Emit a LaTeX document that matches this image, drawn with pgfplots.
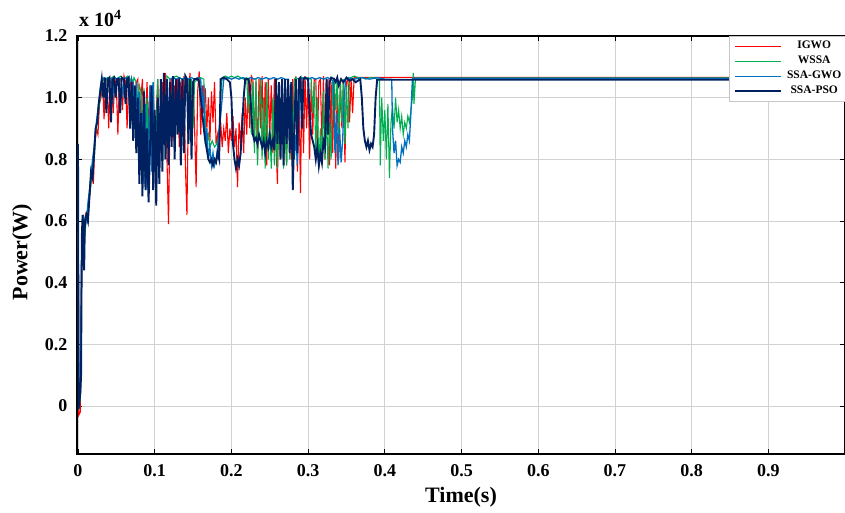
\documentclass[border=0pt]{standalone}
\usepackage{pgfplots}
\pgfplotsset{compat=1.18}
\usepackage{fontspec}
\setmainfont{Liberation Serif}
\definecolor{cIGWO}{RGB}{255,0,0}
\definecolor{cWSSA}{RGB}{0,176,80}
\definecolor{cSSAGWO}{RGB}{0,112,192}
\definecolor{cSSAPSO}{RGB}{0,32,96}
\begin{document}
\begin{tikzpicture}
\path[use as bounding box] (-77pt,-58pt) rectangle (768pt,454pt);
\begin{axis}[
  scale only axis, width=768pt, height=418pt,
  xmin=-0.0013, xmax=0.9999, ymin=-0.156, ymax=1.2,
  xtick={0,0.1,0.2,0.3,0.4,0.5,0.6,0.7,0.8,0.9},
  xticklabels={0,0.1,0.2,0.3,0.4,0.5,0.6,0.7,0.8,0.9},
  ytick={0,0.2,0.4,0.6,0.8,1.0,1.2},
  yticklabels={0,0.2,0.4,0.6,0.8,1.0,1.2},
  /pgf/number format/assume math mode=true,
  tick label style={font=\bfseries\fontsize{18}{20}\selectfont, black},
  xticklabel style={yshift=-7pt},
  yticklabel style={xshift=-6pt},
  tick align=inside, tick pos=both, major tick length=5pt,
  tick style={black, line width=0.8pt},
  grid=major, major grid style={gray!35, line width=0.8pt},
  axis line style={line width=1.6pt, black},
  xlabel={Time(s)}, ylabel={Power(W)},
  label style={font=\bfseries\fontsize{22}{24}\selectfont},
  xlabel style={at={(axis description cs:0.5,-0.103)}, anchor=center},
  ylabel style={at={(axis description cs:-0.0716,0.483)}, anchor=center},
  legend style={at={(0.849,1)}, anchor=north west, draw=gray!45, line width=0.6pt, fill=white,
    font=\bfseries\fontsize{11.5}{13}\selectfont, inner xsep=5pt, inner ysep=3pt,
    row sep=1pt, column sep=3pt,
    nodes={inner sep=1pt, text height=8.5pt, text depth=3.5pt}},
  legend image code/.code={\draw[#1] (0pt,0pt) -- (46pt,0pt);},
  clip=true,
]
% IGWO
\addplot[cIGWO, line width=1.1pt] coordinates {
(0,0.84)(0.001,-0.03)(0.003,-0.02)(0.004,0.3)(0.005,0.55)(0.006,0.6)(0.008,0.58)(0.010,0.62)(0.012,0.6)(0.014,0.66)(0.016,0.7)(0.018,0.78)(0.020,0.72)(0.022,0.85)(0.024,0.9)(0.026,0.88)(0.028,0.98)(0.030,1.0)
(0.032,1.05)(0.034,0.93)(0.036,1.06)(0.038,1.06)(0.040,0.9)(0.042,1.05)(0.044,1.06)(0.046,0.95)(0.048,1.06)(0.050,1.04)(0.052,0.88)(0.054,1.06)(0.056,1.06)(0.058,0.96)(0.060,1.07)(0.062,1.05)(0.064,0.9)(0.066,1.06)(0.068,1.06)(0.070,0.98)(0.072,1.06)(0.074,0.92)(0.076,1.05)(0.078,1.06)(0.080,0.86)(0.082,1.0)(0.084,1.06)(0.086,0.84)(0.088,0.92)(0.090,1.05)(0.092,0.9)(0.094,1.04)(0.096,0.88)(0.098,1.02)(0.100,0.85)
(0.102,0.95)(0.104,1.06)(0.106,0.88)(0.108,0.82)(0.110,1.05)(0.112,0.9)(0.114,1.08)(0.116,0.8)(0.118,0.59)(0.120,0.95)(0.122,1.06)(0.124,0.86)(0.126,1.04)(0.128,0.92)(0.130,1.06)(0.132,0.84)(0.134,1.05)(0.136,0.88)(0.138,1.07)(0.140,0.78)(0.142,0.62)(0.144,1.0)(0.146,1.08)(0.148,0.85)(0.150,1.05)(0.152,0.9)(0.154,0.71)(0.156,1.02)(0.158,1.085)(0.160,0.88)(0.162,1.04)(0.164,0.95)(0.166,1.03)(0.168,0.9)(0.170,1.0)(0.172,0.86)(0.174,1.02)(0.176,0.92)(0.178,1.05)(0.180,0.85)
(0.182,0.88)(0.184,0.82)(0.186,0.92)(0.188,0.84)(0.190,0.9)(0.192,0.86)(0.194,0.95)(0.196,0.82)(0.198,0.9)(0.200,0.86)(0.202,0.94)(0.204,0.84)(0.206,0.9)(0.208,0.71)(0.210,0.92)(0.212,0.85)(0.214,0.95)(0.216,0.82)(0.218,1.0)(0.220,0.88)(0.222,1.06)(0.224,0.9)(0.226,1.07)(0.228,1.06)(0.230,0.86)(0.232,1.05)(0.234,0.8)(0.236,1.06)(0.238,0.9)(0.240,1.07)(0.242,0.84)(0.244,1.05)(0.246,0.78)(0.248,1.06)(0.250,0.88)(0.252,1.04)(0.254,0.82)(0.256,1.06)(0.258,0.86)(0.260,0.72)
(0.262,1.05)(0.264,0.8)(0.266,1.06)(0.268,0.84)(0.270,1.0)(0.272,0.78)(0.274,1.06)(0.276,0.9)(0.278,0.8)(0.280,1.06)(0.282,0.85)(0.284,1.07)(0.286,0.76)(0.288,1.05)(0.290,0.69)(0.292,1.06)(0.294,0.82)(0.296,1.07)(0.298,0.9)(0.300,1.06)(0.302,0.8)(0.304,1.05)(0.306,0.88)(0.308,1.06)(0.310,1.06)(0.312,0.84)(0.314,1.05)(0.316,1.06)(0.318,0.86)(0.320,1.07)(0.322,0.8)(0.324,0.95)(0.326,1.06)(0.328,0.78)(0.330,1.05)(0.332,0.82)(0.334,1.06)(0.336,0.77)(0.338,1.04)(0.340,0.8)
(0.342,1.06)(0.344,0.9)(0.346,1.06)(0.348,0.79)(0.350,1.05)(0.352,1.06)(0.354,0.92)(0.356,1.06)(0.358,0.95)(0.360,1.066)(1.0,1.066)};
\addlegendentry{\makebox[56pt]{IGWO}}
% WSSA
\addplot[cWSSA, line width=1.1pt] coordinates {
(0,0.84)(0.001,0.0)(0.003,0.02)(0.005,0.5)(0.007,0.6)(0.009,0.55)(0.011,0.62)(0.013,0.64)(0.015,0.68)(0.017,0.72)(0.019,0.78)(0.021,0.8)(0.023,0.88)(0.025,0.92)(0.027,0.96)(0.029,1.0)(0.031,1.04)
(0.033,1.06)(0.036,1.05)(0.038,1.065)(0.041,1.06)(0.044,1.065)(0.047,1.07)(0.050,1.06)(0.053,1.065)(0.056,1.07)(0.059,1.06)(0.062,1.065)(0.065,1.07)(0.068,1.06)(0.071,1.04)(0.073,1.065)(0.076,1.05)(0.078,0.98)(0.080,1.04)(0.082,1.02)(0.084,0.9)(0.086,1.03)(0.088,0.85)(0.090,1.0)(0.092,0.8)(0.094,1.02)(0.096,0.84)(0.098,1.05)(0.100,0.78)(0.102,0.9)(0.104,1.06)(0.106,0.75)(0.108,1.02)(0.110,0.8)(0.112,1.06)(0.114,0.85)(0.116,1.07)(0.118,1.065)(0.120,1.06)(0.122,0.92)(0.124,1.065)(0.128,1.07)(0.132,1.065)(0.136,1.06)(0.140,1.065)(0.144,1.06)(0.146,0.95)(0.148,1.06)(0.150,0.9)(0.152,1.05)(0.156,1.06)(0.160,1.065)(0.164,1.06)
(0.166,0.92)(0.168,0.85)(0.170,0.88)(0.172,0.84)(0.175,0.86)(0.178,0.84)(0.181,0.85)(0.184,0.88)(0.186,1.0)(0.188,1.065)(0.192,1.07)(0.196,1.065)(0.200,1.07)(0.204,1.065)(0.208,1.07)(0.212,1.065)(0.216,1.06)(0.220,1.065)(0.222,0.95)(0.224,1.06)(0.226,0.88)(0.228,1.05)(0.230,0.82)(0.232,1.06)(0.234,0.78)(0.236,0.95)(0.238,1.06)(0.240,0.8)(0.242,1.0)(0.244,0.77)(0.246,1.05)(0.248,0.8)(0.250,0.9)(0.252,0.77)(0.254,1.0)(0.256,0.78)(0.258,0.92)(0.260,0.77)(0.262,0.95)(0.264,0.8)(0.266,1.04)(0.268,0.77)(0.270,0.88)(0.272,0.78)(0.274,1.06)(0.276,0.8)(0.278,0.95)(0.280,0.77)(0.282,1.06)
(0.284,1.065)(0.288,1.06)(0.292,1.065)(0.296,1.06)(0.300,1.065)(0.304,1.06)(0.306,0.95)(0.308,1.05)(0.310,0.82)(0.312,1.0)(0.314,0.77)(0.316,0.9)(0.318,0.78)(0.320,1.02)(0.322,0.8)(0.324,0.95)(0.326,0.77)(0.328,0.92)(0.330,0.8)(0.332,1.05)(0.334,1.06)(0.336,0.96)(0.338,1.06)(0.340,0.88)(0.342,1.05)(0.344,0.92)(0.346,1.06)(0.348,0.85)(0.350,1.04)(0.352,0.9)(0.354,1.06)(0.356,1.065)(0.360,1.07)(0.365,1.065)(0.370,1.065)(0.375,1.06)(0.380,1.065)(0.385,1.065)(0.390,1.06)(0.393,1.06)
(0.394,0.78)(0.396,1.0)(0.398,0.86)(0.400,0.96)(0.402,0.8)(0.404,0.98)(0.406,0.74)(0.408,0.92)(0.410,0.97)(0.412,0.9)(0.414,1.0)(0.416,0.92)(0.418,0.96)(0.420,0.9)(0.422,0.94)(0.424,0.88)(0.426,0.92)(0.428,0.9)(0.430,0.94)(0.432,0.92)(0.434,0.96)(0.436,1.0)(0.437,1.08)(0.438,0.98)(0.440,1.064)(1.0,1.064)};
\addlegendentry{\makebox[56pt]{WSSA}}
% SSA-GWO
\addplot[cSSAGWO, line width=1.3pt] coordinates {
(0,0.84)(0.001,0.01)(0.003,0.03)(0.005,0.52)(0.007,0.62)(0.009,0.58)(0.011,0.6)(0.013,0.66)(0.015,0.7)(0.017,0.75)(0.019,0.8)(0.021,0.84)(0.023,0.9)(0.025,0.94)(0.027,0.98)(0.029,1.03)(0.031,1.06)
(0.034,1.065)(0.037,1.06)(0.040,1.065)(0.043,1.06)(0.045,0.98)(0.047,1.065)(0.050,1.06)(0.053,1.065)(0.056,1.06)(0.058,1.0)(0.060,1.06)(0.063,1.065)(0.066,1.06)(0.068,0.96)(0.070,1.06)(0.072,1.04)(0.074,0.92)(0.076,1.05)(0.078,0.88)(0.080,1.02)(0.082,0.8)(0.084,0.95)(0.086,0.72)(0.088,0.98)(0.090,0.7)(0.092,0.88)(0.094,1.04)(0.096,0.76)(0.098,1.05)(0.100,0.8)(0.102,0.72)(0.104,1.0)(0.106,0.78)(0.108,1.04)(0.110,0.82)(0.112,1.06)(0.114,0.9)(0.116,1.06)(0.118,0.84)(0.120,1.06)
(0.124,1.065)(0.128,1.06)(0.132,1.065)(0.136,1.06)(0.140,1.065)(0.144,1.06)(0.148,1.065)(0.152,1.06)(0.156,1.065)(0.160,1.06)(0.162,0.95)(0.164,1.04)(0.166,0.85)(0.168,0.9)(0.170,0.8)(0.172,0.84)(0.174,0.78)(0.176,0.82)(0.178,0.78)(0.180,0.8)(0.182,0.84)(0.184,0.9)(0.186,0.94)(0.188,1.0)(0.190,1.06)(0.195,1.065)(0.200,1.06)(0.205,1.065)(0.210,1.06)(0.215,1.065)(0.220,1.06)(0.225,1.065)(0.230,1.06)(0.235,1.065)(0.240,1.06)(0.245,1.065)(0.250,1.06)(0.255,1.065)(0.260,1.06)(0.265,1.065)(0.270,1.06)(0.274,1.06)
(0.276,0.9)(0.278,1.05)(0.280,0.86)(0.282,0.8)(0.284,0.88)(0.286,0.78)(0.288,0.95)(0.290,1.06)(0.295,1.065)(0.300,1.06)(0.305,1.065)(0.310,1.06)(0.315,1.065)(0.320,1.06)(0.325,1.065)(0.330,1.06)(0.333,1.05)(0.335,0.82)(0.337,0.95)(0.339,0.78)(0.341,0.9)(0.343,0.79)(0.345,0.86)(0.347,1.0)(0.349,1.06)(0.352,1.065)(0.360,1.06)(0.370,1.065)(0.380,1.06)(0.390,1.065)(0.400,1.06)(0.409,1.06)
(0.410,0.9)(0.412,0.82)(0.414,0.86)(0.416,0.78)(0.418,0.8)(0.420,0.79)(0.422,0.84)(0.424,0.82)(0.426,0.86)(0.428,0.84)(0.430,0.88)(0.432,0.86)(0.434,0.95)(0.436,1.063)(1.0,1.063)};
\addlegendentry{\makebox[56pt]{SSA-GWO}}
% SSA-PSO
\addplot[cSSAPSO, line width=1.9pt] coordinates {
(0,0.85)(0.0008,-0.01)(0.003,0.04)(0.004,0.1)(0.005,0.55)(0.006,0.62)(0.007,0.5)(0.008,0.44)(0.009,0.6)(0.011,0.62)(0.013,0.6)(0.015,0.68)(0.017,0.76)(0.019,0.74)(0.021,0.82)(0.023,0.9)(0.025,0.92)(0.027,0.98)(0.029,1.02)(0.031,1.06)
(0.033,1.0)(0.035,1.065)(0.037,0.95)(0.039,1.06)(0.041,1.065)(0.043,0.92)(0.045,1.06)(0.047,1.065)(0.049,1.0)(0.051,1.06)(0.053,1.06)(0.055,0.95)(0.057,1.065)(0.060,1.06)(0.062,0.98)(0.064,1.06)(0.066,1.065)(0.068,0.9)(0.070,1.05)(0.072,0.86)(0.074,1.04)(0.076,0.82)(0.078,1.0)(0.080,0.72)(0.082,0.95)(0.084,0.68)(0.086,1.02)(0.088,0.7)(0.090,0.9)(0.092,0.66)(0.094,0.85)(0.096,1.04)(0.098,0.7)(0.100,0.96)(0.102,0.65)(0.104,1.0)(0.106,0.72)(0.108,1.06)(0.110,0.76)(0.112,1.08)(0.114,0.8)(0.116,1.06)(0.118,0.78)(0.120,1.05)
(0.122,0.84)(0.124,1.07)(0.126,0.8)(0.128,1.06)(0.130,0.88)(0.132,1.065)(0.134,0.78)(0.136,1.06)(0.138,0.82)(0.140,1.07)(0.142,1.06)(0.144,0.85)(0.146,1.06)(0.148,0.8)(0.150,1.05)(0.152,1.06)(0.156,1.06)(0.158,1.05)(0.160,1.0)(0.162,0.95)(0.164,0.9)(0.166,0.86)(0.168,0.83)(0.170,0.8)(0.172,0.79)(0.174,0.8)(0.176,0.78)(0.178,0.8)(0.180,0.79)(0.182,0.82)(0.184,0.8)(0.186,1.06)(0.190,1.065)(0.194,1.06)(0.198,1.05)(0.200,1.0)(0.202,0.85)(0.204,0.8)(0.206,0.77)(0.208,0.8)(0.210,0.78)(0.212,0.82)(0.214,0.9)(0.216,1.0)(0.218,1.06)(0.222,1.06)
(0.224,1.04)(0.226,0.95)(0.228,0.88)(0.230,0.86)(0.232,0.87)(0.234,0.85)(0.236,0.88)(0.238,0.86)(0.240,0.84)(0.242,0.86)(0.244,0.82)(0.246,0.86)(0.248,0.84)(0.250,0.88)(0.252,0.84)(0.254,0.86)(0.256,0.83)(0.258,1.06)(0.260,0.85)(0.262,1.05)(0.264,0.8)(0.266,1.06)(0.268,0.78)(0.270,1.06)(0.272,0.85)(0.274,1.06)(0.276,0.82)(0.278,1.05)(0.280,0.7)(0.282,0.9)(0.284,1.06)(0.286,0.82)(0.288,1.06)(0.290,1.065)(0.292,0.9)(0.294,1.06)(0.296,1.065)(0.300,1.06)
(0.302,0.95)(0.304,0.88)(0.306,0.86)(0.308,0.84)(0.310,0.8)(0.312,0.84)(0.314,0.78)(0.316,0.82)(0.318,0.79)(0.320,0.86)(0.322,0.84)(0.324,1.06)(0.326,0.88)(0.328,1.05)(0.330,1.065)(0.334,1.06)(0.336,1.05)(0.338,1.065)(0.340,1.04)(0.343,1.06)(0.346,1.05)(0.350,1.065)(0.354,1.055)(0.358,1.06)(0.362,1.05)(0.368,1.06)
(0.370,1.0)(0.372,0.9)(0.374,0.86)(0.376,0.84)(0.378,0.86)(0.380,0.83)(0.382,0.85)(0.384,0.84)(0.386,0.88)(0.388,1.0)(0.390,1.058)(1.0,1.058)};
\addlegendentry{\makebox[56pt]{SSA-PSO}}
\end{axis}
\node[anchor=base west, font=\bfseries\fontsize{20}{22}\selectfont, inner sep=0pt] at (2pt,427pt) {x 10\textsuperscript{4}};
\end{tikzpicture}
\end{document}
